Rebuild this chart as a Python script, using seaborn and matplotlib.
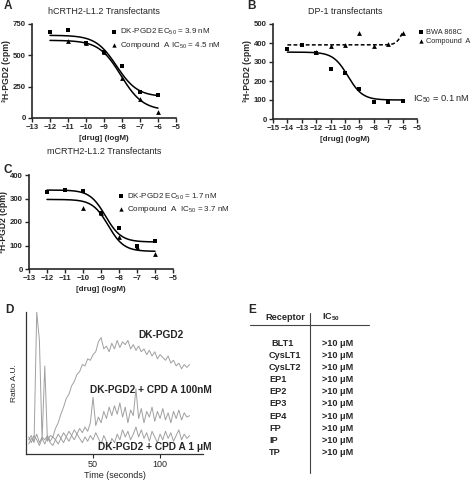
import matplotlib
matplotlib.use("Agg")
import matplotlib.pyplot as plt
import seaborn as sns
import numpy as np

# ---- data ----
# A: hCRTH2-L1.2 transfectants
a_dk_x = [-12, -11, -10, -9, -8, -7, -6]
a_dk_y = [685, 705, 600, 525, 415, 205, 180]
a_cpd_x = [-11, -10, -9, -8, -7, -6]
a_cpd_y = [615, 600, 525, 320, 150, 50]
a_dk_fit = [660, 170, -8.3, 0.75]    # top, bottom, logIC50, hill
a_cpd_fit = [620, 60, -8.06, 0.71]

# B: DP-1 transfectants
b_bwa_x = [-14, -13, -12, -11, -10, -9, -8, -7, -6]
b_bwa_y = [370, 390, 350, 265, 240, 160, 88, 90, 97]
b_cpd_x = [-12, -11, -10, -9, -8, -7, -6]
b_cpd_y = [355, 383, 390, 455, 385, 395, 455]
b_bwa_fit = [352, 100, -9.8, 0.85]
b_cpd_fit = [390, 520, -6.0, 2.0]    # bottom, top, logEC50, hill (rising)

# C: mCRTH2-L1.2 transfectants
c_dk_x = [-12, -11, -10, -9, -8, -7, -6]
c_dk_y = [328, 337, 330, 240, 175, 100, 118]
c_cpd_x = [-10, -9, -8, -7, -6]
c_cpd_y = [258, 240, 138, 92, 65]
c_dk_fit = [336, 115, -8.75, 1.0]
c_cpd_fit = [296, 75, -8.6, 1.0]

# D: calcium flux traces (fraction of axis height)
d_time = list(range(2, 124, 2))
d_dk = [0.10, 0.13, 0.08, 1.00, 0.80, 0.10, 0.62, 0.09, 0.13, 0.12, 0.18, 0.22,
        0.28, 0.33, 0.39, 0.42, 0.48, 0.51, 0.56, 0.58, 0.63, 0.62, 0.67, 0.66,
        0.70, 0.72, 0.79, 0.82, 0.74, 0.76, 0.72, 0.78, 0.74, 0.80, 0.75, 0.79,
        0.77, 0.80, 0.74, 0.77, 0.73, 0.76, 0.72, 0.74, 0.70, 0.73, 0.69, 0.72,
        0.67, 0.70, 0.68, 0.66, 0.69, 0.64, 0.66, 0.62, 0.64, 0.60, 0.63, 0.61,
        0.63]
d_100nm = [0.07, 0.11, 0.09, 0.14, 0.08, 0.12, 0.10, 0.13, 0.09, 0.12, 0.10, 0.14,
           0.11, 0.15, 0.12, 0.16, 0.13, 0.17, 0.14, 0.18, 0.15, 0.19, 0.16, 0.22,
           0.40, 0.20, 0.26, 0.22, 0.30, 0.25, 0.33, 0.27, 0.34, 0.28, 0.36, 0.26,
           0.33, 0.22, 0.31, 0.27, 0.46, 0.25, 0.32, 0.22, 0.30, 0.26, 0.33, 0.23,
           0.30, 0.25, 0.32, 0.24, 0.29, 0.22, 0.30, 0.25, 0.31, 0.24, 0.29, 0.26,
           0.27]
d_1um = [0.12, 0.08, 0.13, 0.10, 0.06, 0.11, 0.07, 0.12, 0.08, 0.06, 0.10, 0.07,
         0.11, 0.08, 0.12, 0.09, 0.13, 0.10, 0.14, 0.11, 0.08, 0.12, 0.09, 0.13,
         0.10, 0.15, 0.11, 0.07, 0.13, 0.09, 0.05, 0.11, 0.08, 0.14, 0.10, 0.17,
         0.12, 0.16, 0.10, 0.14, 0.19, 0.12, 0.17, 0.11, 0.15, 0.09, 0.16, 0.12,
         0.08, 0.14, 0.10, 0.16, 0.11, 0.15, 0.09, 0.13, 0.17, 0.10, 0.14, 0.11,
         0.13]

# E: selectivity table
e_receptors = ["BLT1", "CysLT1", "CysLT2", "EP1", "EP2", "EP3", "EP4", "FP", "IP", "TP"]
e_ic50 = [">10 μM"] * len(e_receptors)

# ---- helpers ----
W, H = 474, 484


def box(l, t, r, b):
    return [l / W, 1 - b / H, (r - l) / W, (b - t) / H]


def falling(x, p):
    top, bottom, c, h = p
    return bottom + (top - bottom) / (1 + 10 ** (h * (x - c)))


def rising(x, p):
    bottom, top, c, h = p
    return bottom + (top - bottom) / (1 + 10 ** (h * (c - x)))


def style_dose_axis(ax, xlim, ylim, yticks):
    ax.set_xlim(*xlim)
    ax.set_ylim(*ylim)
    ax.set_xticks(range(xlim[0], xlim[1] + 1))
    ax.set_yticks(yticks)
    sns.despine(ax=ax)
    for s in ["left", "bottom"]:
        ax.spines[s].set_linewidth(1.2)
    ax.tick_params(direction="out", length=3, width=1, labelsize=5.6, pad=1.5)
    for lab in ax.get_xticklabels() + ax.get_yticklabels():
        lab.set_fontweight("bold")
    ax.set_xlabel("[drug] (logM)", fontsize=5.8, fontweight="bold", labelpad=2.5)
    ax.set_ylabel("³H-PGD2 (cpm)", fontsize=6.2, fontweight="bold", labelpad=1.5)
    ax.patch.set_alpha(0)


def add_legend(ax, anchor, size=5.8, pad=0.35):
    ax.legend(loc="upper left", bbox_to_anchor=anchor, frameon=False,
              fontsize=size, handletextpad=pad, borderaxespad=0, labelspacing=0.3,
              handlelength=0.9, markerscale=0.9)


sns.set_theme(style="ticks")
plt.rcParams["font.family"] = ["Liberation Sans", "DejaVu Sans"]
plt.rcParams["mathtext.fontset"] = "custom"
plt.rcParams["mathtext.rm"] = "Liberation Sans"
plt.rcParams["mathtext.it"] = "Liberation Sans:italic"
plt.rcParams["mathtext.bf"] = "Liberation Sans:bold"

fig = plt.figure(figsize=(W / 100, H / 100), dpi=100)
fig.patch.set_facecolor("white")

mk = dict(color="black", s=12, linewidth=0, zorder=3)
ln = dict(color="black", linewidth=1.1)

# ---- panel A ----
axA = fig.add_axes(box(32, 24, 176, 118))
xa = np.linspace(-12, -6, 200)
sns.lineplot(x=xa, y=falling(xa, a_dk_fit), ax=axA, **ln)
sns.lineplot(x=xa, y=falling(xa, a_cpd_fit), ax=axA, **ln)
sns.scatterplot(x=a_dk_x, y=a_dk_y, marker="s", ax=axA,
                label="DK-PGD2 EC$_{50}$ = 3.9 nM", **mk)
sns.scatterplot(x=a_cpd_x, y=a_cpd_y, marker="^", ax=axA,
                label="Compound  A IC$_{50}$ = 4.5 nM", **mk)
style_dose_axis(axA, (-13, -5), (0, 750), [0, 250, 500, 750])
add_legend(axA, (0.52, 1.0))

# ---- panel B ----
axB = fig.add_axes(box(273, 24, 417, 119))
xb = np.linspace(-14, -6, 200)
sns.lineplot(x=xb, y=falling(xb, b_bwa_fit), ax=axB, **ln)
sns.lineplot(x=xb, y=rising(xb, b_cpd_fit), ax=axB, color="black",
             linewidth=1.1, linestyle=(0, (2.5, 1.5)))
sns.scatterplot(x=b_bwa_x, y=b_bwa_y, marker="s", ax=axB, label="BWA 868C", **mk)
sns.scatterplot(x=b_cpd_x, y=b_cpd_y, marker="^", ax=axB, label="Compound  A", **mk)
style_dose_axis(axB, (-15, -5), (0, 500), [0, 100, 200, 300, 400, 500])
add_legend(axB, (0.985, 0.98), size=5.3, pad=0.25)

# ---- panel C ----
axC = fig.add_axes(box(29, 175, 173, 269))
xc = np.linspace(-12, -6, 200)
sns.lineplot(x=xc, y=falling(xc, c_dk_fit), ax=axC, **ln)
sns.lineplot(x=xc, y=falling(xc, c_cpd_fit), ax=axC, **ln)
sns.scatterplot(x=c_dk_x, y=c_dk_y, marker="s", ax=axC,
                label="DK-PGD2 EC$_{50}$ = 1.7 nM", **mk)
sns.scatterplot(x=c_cpd_x, y=c_cpd_y, marker="^", ax=axC,
                label="Compound  A  IC$_{50}$ = 3.7 nM", **mk)
style_dose_axis(axC, (-13, -5), (0, 400), [0, 100, 200, 300, 400])
add_legend(axC, (0.59, 0.86))

# ---- panel D ----
axD = fig.add_axes(box(26, 312, 203, 454))
grey = "#a0a0a0"
sns.lineplot(x=d_time, y=d_1um, ax=axD, color=grey, linewidth=0.7)
sns.lineplot(x=d_time, y=d_100nm, ax=axD, color=grey, linewidth=0.7)
sns.lineplot(x=d_time, y=d_dk, ax=axD, color=grey, linewidth=0.7)
axD.set_xlim(0, 132)
axD.set_ylim(0, 1.0)
axD.set_xticks([50, 100])
axD.set_yticks([])
sns.despine(ax=axD)
for s in ["left", "bottom"]:
    axD.spines[s].set_linewidth(0.9)
    axD.spines[s].set_color("#333333")
axD.tick_params(axis="x", direction="out", length=3, width=0.8, labelsize=6.5, pad=1.5)
axD.set_xlabel("Time (seconds)", fontsize=6.5, labelpad=1)
axD.set_ylabel("Ratio A.U.", fontsize=6, labelpad=6)
axD.patch.set_alpha(0)
dlab = dict(fontsize=7.3, fontweight="bold", va="center", ha="left")
axD.text(84, 0.84, "DK-PGD2", **dlab)
axD.text(48, 0.45, "DK-PGD2 + CPD A 100nM", **dlab)
axD.text(54, 0.05, "DK-PGD2 + CPD A 1 μM", **dlab)

# ---- overlay: titles, panel letters, table E ----
ov = fig.add_axes([0, 0, 1, 1], zorder=-1)
ov.set_xlim(0, W)
ov.set_ylim(H, 0)
ov.axis("off")

for letter, x, y in [("A", 4, 6), ("B", 247, 6), ("C", 4, 170), ("D", 5, 310), ("E", 248, 310)]:
    ov.text(x, y, letter, fontsize=8.5, fontweight="bold", va="center", ha="left")

ov.text(104, 11, "hCRTH2-L1.2 Transfectants", fontsize=6.5, ha="center", va="center")
ov.text(345, 11, "DP-1 transfectants", fontsize=6.5, ha="center", va="center")
ov.text(104, 152, "mCRTH2-L1.2 Transfectants", fontsize=6.5, ha="center", va="center")
ov.text(413, 99, "IC$_{50}$ = 0.1 nM", fontsize=6.7, ha="left", va="center")

tb = dict(fontsize=6.6, fontweight="bold", va="center", ha="left")
ov.text(265, 317, "Receptor", **tb)
ov.text(322, 317, r"IC$_{\mathbf{50}}$", **tb)
ov.plot([250, 369], [325, 325], color="#444444", linewidth=0.8)
ov.plot([310, 310], [313, 473], color="#444444", linewidth=0.8)
for i, (rec, val) in enumerate(zip(e_receptors, e_ic50)):
    y = 343 + i * 12.2
    ov.text(271 if i == 0 else 269, y, rec, **tb)
    ov.text(322, y, val, **tb)

fig.savefig("out.png", dpi=100, facecolor="white")
